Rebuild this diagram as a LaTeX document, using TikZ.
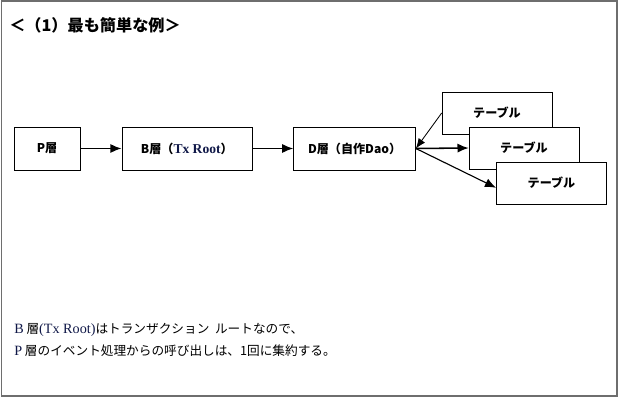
\documentclass[tikz,border=0pt]{standalone}
\usepackage{fontspec}
\setmainfont{Noto Sans CJK JP}
\newfontfamily\romanfont[Scale=1.12]{Liberation Serif}
\usetikzlibrary{arrows.meta, positioning}
\definecolor{rootblue}{RGB}{16,24,72}
\definecolor{framegray}{RGB}{110,110,110}

\begin{document}
\begin{tikzpicture}[
    x=0.025cm, y=-0.025cm,
    node distance=1.03cm,
    layer/.style={rectangle, minimum height=1.075cm, text centered, draw=black, fill=white, inner sep=0pt, font=\fontsize{8.6}{10}\selectfont\bfseries},
    tablebox/.style={rectangle, minimum width=2.75cm, minimum height=1.05cm, text centered, draw=black, fill=white, inner sep=0pt, font=\fontsize{8.6}{10}\selectfont\bfseries},
    arrow/.style={-{Latex[length=2.8mm, width=2.3mm]}, line width=1.1pt},
    thinarrow/.style={-{Latex[length=2.5mm, width=2mm]}, line width=0.6pt},
    note/.style={anchor=west, inner sep=0pt, font=\fontsize{9}{12}\selectfont}
]
\useasboundingbox (0,0) rectangle (620,398);
\draw[framegray, line width=1.4pt] (1.5,1) rectangle (617,396);

% Title
\node (title) [anchor=west, inner sep=0pt, font=\fontsize{11.5}{14}\selectfont\bfseries] at (9,25) {＜（1）最も簡単な例＞};

% Nodes
\node (p) [layer, minimum width=1.65cm] at (47,148.5) {P層};
\node (b) [layer, minimum width=3.25cm, right=of p] {B層（{\romanfont\bfseries\color{rootblue}Tx Root}）};
\node (d) [layer, minimum width=3.05cm, right=of b] {D層（自作Dao）};
\node (t1) [tablebox] at (497,113) {テーブル};
\node (t2) [tablebox] at (524,148) {テーブル};
\node (t3) [tablebox] at (551.5,183) {テーブル};

% Arrows
\draw [arrow] (p) -- (b);
\draw [arrow] (b) -- (d);
\draw [thinarrow] (t1.west) -- (d.east);
\draw [arrow] (d.east) -- (t2.west);
\draw [arrow, line width=0.8pt] (d.east) -- (t3.185);

% Notes
\node (note1) [note] at (14,330) {{\romanfont\color{rootblue}B} 層{\romanfont\color{rootblue}(Tx Root)}はトランザクション\ \ ルートなので、};
\node (note2) [note] at (14,351) {{\romanfont\color{rootblue}P} 層のイベント処理からの呼び出しは、1回に集約する。};

\end{tikzpicture}
\end{document}
